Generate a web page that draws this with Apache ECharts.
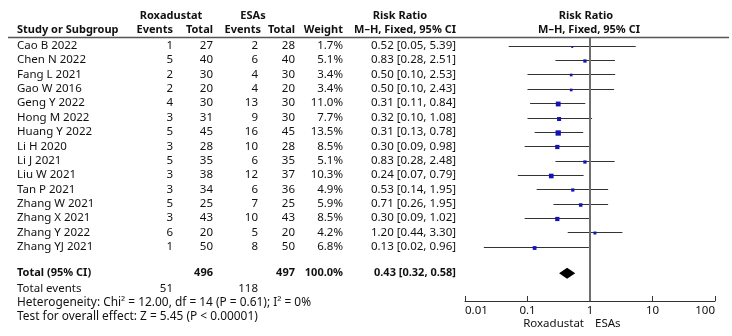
<!DOCTYPE html>
<html>
<head>
<meta charset="utf-8">
<script src="https://cdn.jsdelivr.net/npm/echarts@6/dist/echarts.min.js"></script>
<style>
  html, body { margin: 0; padding: 0; background: #fff; }
  #forest { width: 732px; height: 336px; }
</style>
</head>
<body>
<div id="forest"></div>
<script>
// study data
var studies = ['Cao B 2022', 'Chen N 2022', 'Fang L 2021', 'Gao W 2016', 'Geng Y 2022', 'Hong M 2022',
  'Huang Y 2022', 'Li H 2020', 'Li J 2021', 'Liu W 2021', 'Tan P 2021', 'Zhang W 2021',
  'Zhang X 2021', 'Zhang Y 2022', 'Zhang YJ 2021'];
var roxEvents = [1, 5, 2, 2, 4, 3, 5, 3, 5, 3, 3, 5, 3, 6, 1];
var roxTotal = [27, 40, 30, 20, 30, 31, 45, 28, 35, 38, 34, 25, 43, 20, 50];
var esaEvents = [2, 6, 4, 4, 13, 9, 16, 10, 6, 12, 6, 7, 10, 5, 8];
var esaTotal = [28, 40, 30, 20, 30, 30, 45, 28, 35, 37, 36, 25, 43, 20, 50];
var weights = [1.7, 5.1, 3.4, 3.4, 11.0, 7.7, 13.5, 8.5, 5.1, 10.3, 4.9, 5.9, 8.5, 4.2, 6.8];
var ratios = [0.52, 0.83, 0.50, 0.50, 0.31, 0.32, 0.31, 0.30, 0.83, 0.24, 0.53, 0.71, 0.30, 1.20, 0.13];
var ciLow = [0.05, 0.28, 0.10, 0.10, 0.11, 0.10, 0.13, 0.09, 0.28, 0.07, 0.14, 0.26, 0.09, 0.44, 0.02];
var ciHigh = [5.39, 2.51, 2.53, 2.43, 0.84, 1.08, 0.78, 0.98, 2.48, 0.79, 1.95, 1.95, 1.02, 3.30, 0.96];

// pooled result
var totalRox = 496, totalEsa = 497, totalWeight = 100.0;
var totalEventsRox = 51, totalEventsEsa = 118;
var pooled = [0.43, 0.32, 0.58];
var heterogeneity = 'Heterogeneity: Chi\u00b2 = 12.00, df = 14 (P = 0.61); I\u00b2 = 0%';
var overallTest = 'Test for overall effect: Z = 5.45 (P < 0.00001)';

// layout (pixels / row units)
var ROW_H = 14.36, FIRST_ROW = 45.7;
function rowAt(px) { return (px - FIRST_ROW) / ROW_H; }
var FAMILY = '"Noto Sans", "Liberation Sans", Arial, sans-serif';
var FONT = '11.5px ' + FAMILY;
var BOLD = 'bold 11px ' + FAMILY;
var WIDE = '11.9px ' + FAMILY;

function fmtRR(r, l, h) {
  return r.toFixed(2) + ' [' + l.toFixed(2) + ', ' + h.toFixed(2) + ']';
}

// table cells: [x, row, text, align, font]
var cells = [];
function cell(x, row, text, align, font) { cells.push([x, row, String(text), align, font || FONT]); }

cell(171, rowAt(16), 'Roxadustat', 'center', BOLD);
cell(253, rowAt(16), 'ESAs', 'center', BOLD);
cell(400, rowAt(16), 'Risk Ratio', 'center', BOLD);
cell(586, rowAt(16), 'Risk Ratio', 'center', BOLD);
cell(17, rowAt(30), 'Study or Subgroup', 'left', BOLD);
cell(173, rowAt(30), 'Events', 'right', BOLD);
cell(213, rowAt(30), 'Total', 'right', BOLD);
cell(261, rowAt(30), 'Events', 'right', BOLD);
cell(295, rowAt(30), 'Total', 'right', BOLD);
cell(343, rowAt(30), 'Weight', 'right', BOLD);
cell(456, rowAt(30), 'M\u2013H, Fixed, 95% CI', 'right', BOLD);
cell(589, rowAt(30), 'M\u2013H, Fixed, 95% CI', 'center', BOLD);

studies.forEach(function (s, i) {
  cell(17, i, s, 'left');
  cell(173, i, roxEvents[i], 'right');
  cell(213, i, roxTotal[i], 'right');
  cell(258, i, esaEvents[i], 'right');
  cell(295, i, esaTotal[i], 'right');
  cell(343, i, weights[i].toFixed(1) + '%', 'right');
  cell(456, i, fmtRR(ratios[i], ciLow[i], ciHigh[i]), 'right');
});

var totalRow = rowAt(273.3);
cell(17, totalRow, 'Total (95% CI)', 'left', BOLD);
cell(213, totalRow, totalRox, 'right', BOLD);
cell(295, totalRow, totalEsa, 'right', BOLD);
cell(343, totalRow, totalWeight.toFixed(1) + '%', 'right', BOLD);
cell(456, totalRow, fmtRR(pooled[0], pooled[1], pooled[2]), 'right', BOLD);
cell(17, rowAt(289), 'Total events', 'left');
cell(173, rowAt(289), totalEventsRox, 'right');
cell(258, rowAt(289), totalEventsEsa, 'right');
cell(17, rowAt(303), heterogeneity, 'left', WIDE);
cell(17, rowAt(317), overallTest, 'left', WIDE);
cell(584, rowAt(324), 'Roxadustat', 'right');
cell(595, rowAt(324), 'ESAs', 'left');

var chart = echarts.init(document.getElementById('forest'));

var option = {
  animation: false,
  backgroundColor: '#fff',
  grid: [
    { left: 0, top: 0, width: 732, height: 336 },
    { left: 465, top: 38, width: 250, height: 263 }
  ],
  xAxis: [
    { gridIndex: 0, type: 'value', min: 0, max: 732, show: false },
    {
      gridIndex: 1, type: 'log', logBase: 10, min: 0.01, max: 100, position: 'bottom',
      axisLine: { onZero: false, lineStyle: { color: '#333', width: 1 } },
      axisTick: { inside: true, length: 5, lineStyle: { color: '#333' } },
      axisLabel: {
        margin: 4, color: '#111', fontSize: 11.5, fontFamily: FAMILY,
        formatter: function (v) { return String(+(+v).toPrecision(2)); },
        showMinLabel: true, showMaxLabel: true,
        alignMinLabel: 'left', alignMaxLabel: 'right'
      },
      splitLine: { show: false },
      minorTick: { show: false }
    }
  ],
  yAxis: [
    { gridIndex: 0, type: 'value', inverse: true, min: rowAt(0), max: rowAt(336), show: false },
    { gridIndex: 1, type: 'value', inverse: true, min: rowAt(38), max: rowAt(301), show: false }
  ],
  graphic: [
    { type: 'line', shape: { x1: 8, y1: 37.5, x2: 729, y2: 37.5 }, style: { stroke: '#555', lineWidth: 1.5 } }
  ],
  series: [
    {
      type: 'custom',
      xAxisIndex: 0, yAxisIndex: 0,
      silent: true,
      data: cells.map(function (c) { return [c[0], c[1]]; }),
      encode: { x: 0, y: 1 },
      renderItem: function (params, api) {
        var c = cells[params.dataIndex];
        var p = api.coord([api.value(0), api.value(1)]);
        return {
          type: 'text', x: p[0], y: p[1],
          style: { text: c[2], align: c[3], verticalAlign: 'middle', font: c[4], fill: '#111' }
        };
      }
    },
    {
      type: 'custom',
      xAxisIndex: 1, yAxisIndex: 1,
      silent: true,
      clip: false,
      data: studies.map(function (s, i) { return [i, ratios[i], ciLow[i], ciHigh[i], weights[i]]; }),
      encode: { x: [1, 2, 3], y: 0 },
      renderItem: function (params, api) {
        var row = api.value(0);
        var c = api.coord([api.value(1), row]);
        var l = api.coord([api.value(2), row]);
        var h = api.coord([api.value(3), row]);
        var y = Math.round(c[1]) + 0.5;
        var s = 1.45 * Math.sqrt(api.value(4));
        return {
          type: 'group',
          children: [
            { type: 'line', shape: { x1: l[0], y1: y, x2: h[0], y2: y }, style: { stroke: '#333', lineWidth: 1 } },
            { type: 'rect', shape: { x: c[0] - s / 2, y: y - s / 2 + 0.5, width: s, height: s }, style: { fill: '#1414b4' } }
          ]
        };
      },
      markLine: {
        silent: true, symbol: 'none', label: { show: false },
        lineStyle: { color: '#6e6e6e', width: 2, type: 'solid' },
        data: [{ xAxis: 1 }]
      }
    },
    {
      type: 'custom',
      xAxisIndex: 1, yAxisIndex: 1,
      silent: true,
      data: [[totalRow, pooled[0], pooled[1], pooled[2]]],
      encode: { x: [1, 2, 3], y: 0 },
      renderItem: function (params, api) {
        var row = api.value(0);
        var c = api.coord([api.value(1), row]);
        var l = api.coord([api.value(2), row]);
        var h = api.coord([api.value(3), row]);
        var d = 5.5;
        return {
          type: 'polygon',
          shape: { points: [[l[0], c[1]], [c[0], c[1] - d], [h[0], c[1]], [c[0], c[1] + d]] },
          style: { fill: '#000' }
        };
      }
    }
  ]
};

chart.setOption(option);
</script>
</body>
</html>
